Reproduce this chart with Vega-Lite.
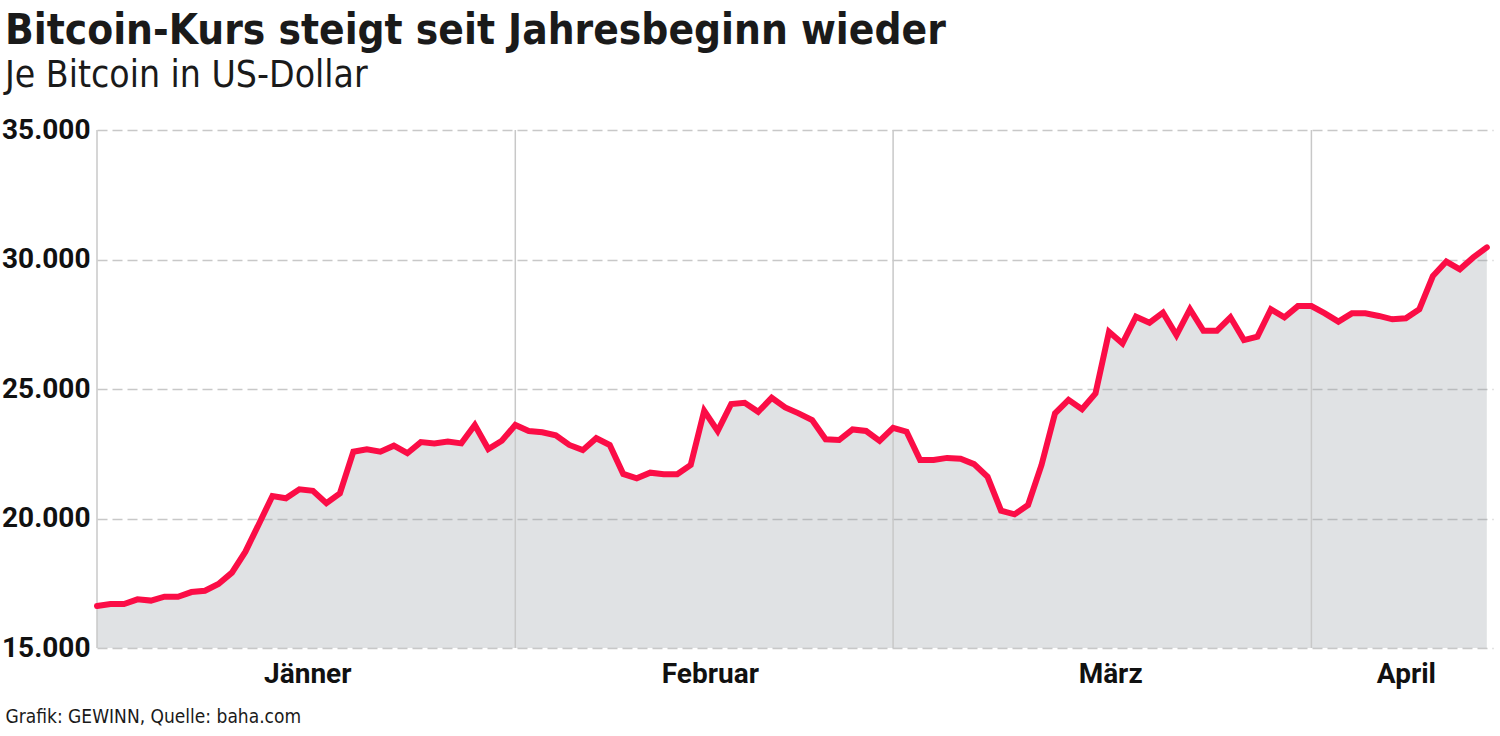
{
  "$schema": "https://vega.github.io/schema/vega-lite/v6.json",
  "autosize": {"type": "none"},
  "width": 1396,
  "height": 518,
  "padding": {"left": 97, "top": 130, "right": 7, "bottom": 88},
  "background": "white",
  "title": {
    "text": "Bitcoin-Kurs steigt seit Jahresbeginn wieder",
    "subtitle": "Je Bitcoin in US-Dollar",
    "anchor": "start",
    "frame": "group",
    "dx": -92,
    "offset": 21,
    "font": "DejaVu Sans Condensed, sans-serif",
    "fontSize": 42,
    "fontWeight": "bold",
    "color": "#1a1a1a",
    "subtitleFont": "DejaVu Sans Condensed, sans-serif",
    "subtitleFontSize": 37,
    "subtitleFontWeight": "normal",
    "subtitleColor": "#1a1a1a",
    "subtitlePadding": 5
  },
  "datasets": {
    "prices": [
      {"date": "2023-01-01", "usd": 16620}, {"date": "2023-01-02", "usd": 16700}, {"date": "2023-01-03", "usd": 16700},
      {"date": "2023-01-04", "usd": 16880}, {"date": "2023-01-05", "usd": 16830}, {"date": "2023-01-06", "usd": 16980},
      {"date": "2023-01-07", "usd": 16980}, {"date": "2023-01-08", "usd": 17160}, {"date": "2023-01-09", "usd": 17210},
      {"date": "2023-01-10", "usd": 17470}, {"date": "2023-01-11", "usd": 17910}, {"date": "2023-01-12", "usd": 18720},
      {"date": "2023-01-13", "usd": 19790}, {"date": "2023-01-14", "usd": 20870}, {"date": "2023-01-15", "usd": 20780},
      {"date": "2023-01-16", "usd": 21130}, {"date": "2023-01-17", "usd": 21070}, {"date": "2023-01-18", "usd": 20590},
      {"date": "2023-01-19", "usd": 20970}, {"date": "2023-01-20", "usd": 22580}, {"date": "2023-01-21", "usd": 22670},
      {"date": "2023-01-22", "usd": 22580}, {"date": "2023-01-23", "usd": 22810}, {"date": "2023-01-24", "usd": 22520},
      {"date": "2023-01-25", "usd": 22950}, {"date": "2023-01-26", "usd": 22900}, {"date": "2023-01-27", "usd": 22970},
      {"date": "2023-01-28", "usd": 22900}, {"date": "2023-01-29", "usd": 23610}, {"date": "2023-01-30", "usd": 22680},
      {"date": "2023-01-31", "usd": 23000},
      {"date": "2023-02-01", "usd": 23610}, {"date": "2023-02-02", "usd": 23380}, {"date": "2023-02-03", "usd": 23330},
      {"date": "2023-02-04", "usd": 23210}, {"date": "2023-02-05", "usd": 22840}, {"date": "2023-02-06", "usd": 22640},
      {"date": "2023-02-07", "usd": 23100}, {"date": "2023-02-08", "usd": 22840}, {"date": "2023-02-09", "usd": 21720},
      {"date": "2023-02-10", "usd": 21550}, {"date": "2023-02-11", "usd": 21770}, {"date": "2023-02-12", "usd": 21710},
      {"date": "2023-02-13", "usd": 21710}, {"date": "2023-02-14", "usd": 22070}, {"date": "2023-02-15", "usd": 24160},
      {"date": "2023-02-16", "usd": 23380}, {"date": "2023-02-17", "usd": 24420}, {"date": "2023-02-18", "usd": 24470},
      {"date": "2023-02-19", "usd": 24120}, {"date": "2023-02-20", "usd": 24660}, {"date": "2023-02-21", "usd": 24290},
      {"date": "2023-02-22", "usd": 24060}, {"date": "2023-02-23", "usd": 23800}, {"date": "2023-02-24", "usd": 23060},
      {"date": "2023-02-25", "usd": 23030}, {"date": "2023-02-26", "usd": 23440}, {"date": "2023-02-27", "usd": 23380},
      {"date": "2023-02-28", "usd": 23000},
      {"date": "2023-03-01", "usd": 23500}, {"date": "2023-03-02", "usd": 23350}, {"date": "2023-03-03", "usd": 22260},
      {"date": "2023-03-04", "usd": 22260}, {"date": "2023-03-05", "usd": 22340}, {"date": "2023-03-06", "usd": 22310},
      {"date": "2023-03-07", "usd": 22100}, {"date": "2023-03-08", "usd": 21610}, {"date": "2023-03-09", "usd": 20300},
      {"date": "2023-03-10", "usd": 20160}, {"date": "2023-03-11", "usd": 20520}, {"date": "2023-03-12", "usd": 22070},
      {"date": "2023-03-13", "usd": 24060}, {"date": "2023-03-14", "usd": 24580}, {"date": "2023-03-15", "usd": 24220},
      {"date": "2023-03-16", "usd": 24830}, {"date": "2023-03-17", "usd": 27210}, {"date": "2023-03-18", "usd": 26760},
      {"date": "2023-03-19", "usd": 27790}, {"date": "2023-03-20", "usd": 27560}, {"date": "2023-03-21", "usd": 27950},
      {"date": "2023-03-22", "usd": 27080}, {"date": "2023-03-23", "usd": 28080}, {"date": "2023-03-24", "usd": 27250},
      {"date": "2023-03-25", "usd": 27250}, {"date": "2023-03-26", "usd": 27770}, {"date": "2023-03-27", "usd": 26890},
      {"date": "2023-03-28", "usd": 27020}, {"date": "2023-03-29", "usd": 28080}, {"date": "2023-03-30", "usd": 27770},
      {"date": "2023-03-31", "usd": 28200},
      {"date": "2023-04-01", "usd": 28200}, {"date": "2023-04-02", "usd": 27920}, {"date": "2023-04-03", "usd": 27600},
      {"date": "2023-04-04", "usd": 27920}, {"date": "2023-04-05", "usd": 27920}, {"date": "2023-04-06", "usd": 27820},
      {"date": "2023-04-07", "usd": 27690}, {"date": "2023-04-08", "usd": 27730}, {"date": "2023-04-09", "usd": 28080},
      {"date": "2023-04-10", "usd": 29360}, {"date": "2023-04-11", "usd": 29920}, {"date": "2023-04-12", "usd": 29620},
      {"date": "2023-04-13", "usd": 30080}, {"date": "2023-04-14", "usd": 30470}
    ],
    "months": [
      {"date": "2023-01-01"}, {"date": "2023-02-01"}, {"date": "2023-03-01"}, {"date": "2023-04-01"}
    ]
  },
  "encoding": {
    "x": {
      "field": "date",
      "type": "temporal",
      "scale": {
        "type": "utc",
        "domain": [
          {"year": 2023, "month": 1, "date": 1, "utc": true},
          {"year": 2023, "month": 4, "date": 14, "hours": 11, "utc": true}
        ]
      },
      "axis": {
        "values": [
          {"year": 2023, "month": 1, "date": 16, "hours": 14, "utc": true},
          {"year": 2023, "month": 2, "date": 15, "hours": 10, "utc": true},
          {"year": 2023, "month": 3, "date": 17, "hours": 2, "utc": true},
          {"year": 2023, "month": 4, "date": 8, "utc": true}
        ],
        "labelExpr": "['Jänner','Februar','März','April'][utcmonth(datum.value)]",
        "grid": false,
        "ticks": false,
        "domain": false,
        "labelFont": "Roboto, sans-serif",
        "labelFontSize": 28,
        "labelFontWeight": "bold",
        "labelColor": "#111111",
        "labelPadding": 12,
        "labelFlush": false,
        "labelOverlap": false,
        "title": "Grafik: GEWINN, Quelle: baha.com",
        "titleFont": "DejaVu Sans Condensed, sans-serif",
        "titleFontSize": 19,
        "titleFontWeight": "normal",
        "titleColor": "#1a1a1a",
        "titleAnchor": "start",
        "titleAlign": "left",
        "titleBaseline": "alphabetic",
        "titleX": -92,
        "titleY": 74
      }
    }
  },
  "layer": [
    {
      "data": {"name": "prices"},
      "mark": {"type": "area", "fill": "#989ea5", "fillOpacity": 0.3, "interpolate": "linear", "clip": true},
      "encoding": {
        "y": {
          "field": "usd",
          "type": "quantitative",
          "scale": {"domain": [15000, 35000], "nice": false, "zero": false},
          "axis": {
            "values": [15000, 20000, 25000, 30000, 35000],
            "labelExpr": "replace(format(datum.value, ','), ',', '.')",
            "title": null,
            "grid": true,
            "gridColor": "#c8c8c8",
            "gridWidth": 1.5,
            "gridDash": [10, 5],
            "ticks": false,
            "domain": false,
            "labelFont": "Roboto, sans-serif",
            "labelFontSize": 28,
            "labelFontWeight": "bold",
            "labelColor": "#111111",
            "labelPadding": 7,
            "labelBaseline": "middle"
          }
        }
      }
    },
    {
      "data": {"name": "months"},
      "mark": {"type": "rule", "color": "#c8c8c8", "strokeWidth": 1.5},
      "encoding": {}
    },
    {
      "data": {"name": "prices"},
      "mark": {"type": "line", "color": "#fb0d46", "strokeWidth": 6, "strokeCap": "round", "strokeJoin": "miter", "interpolate": "linear"},
      "encoding": {
        "y": {"field": "usd", "type": "quantitative"}
      }
    }
  ],
  "config": {
    "view": {"stroke": null}
  }
}
